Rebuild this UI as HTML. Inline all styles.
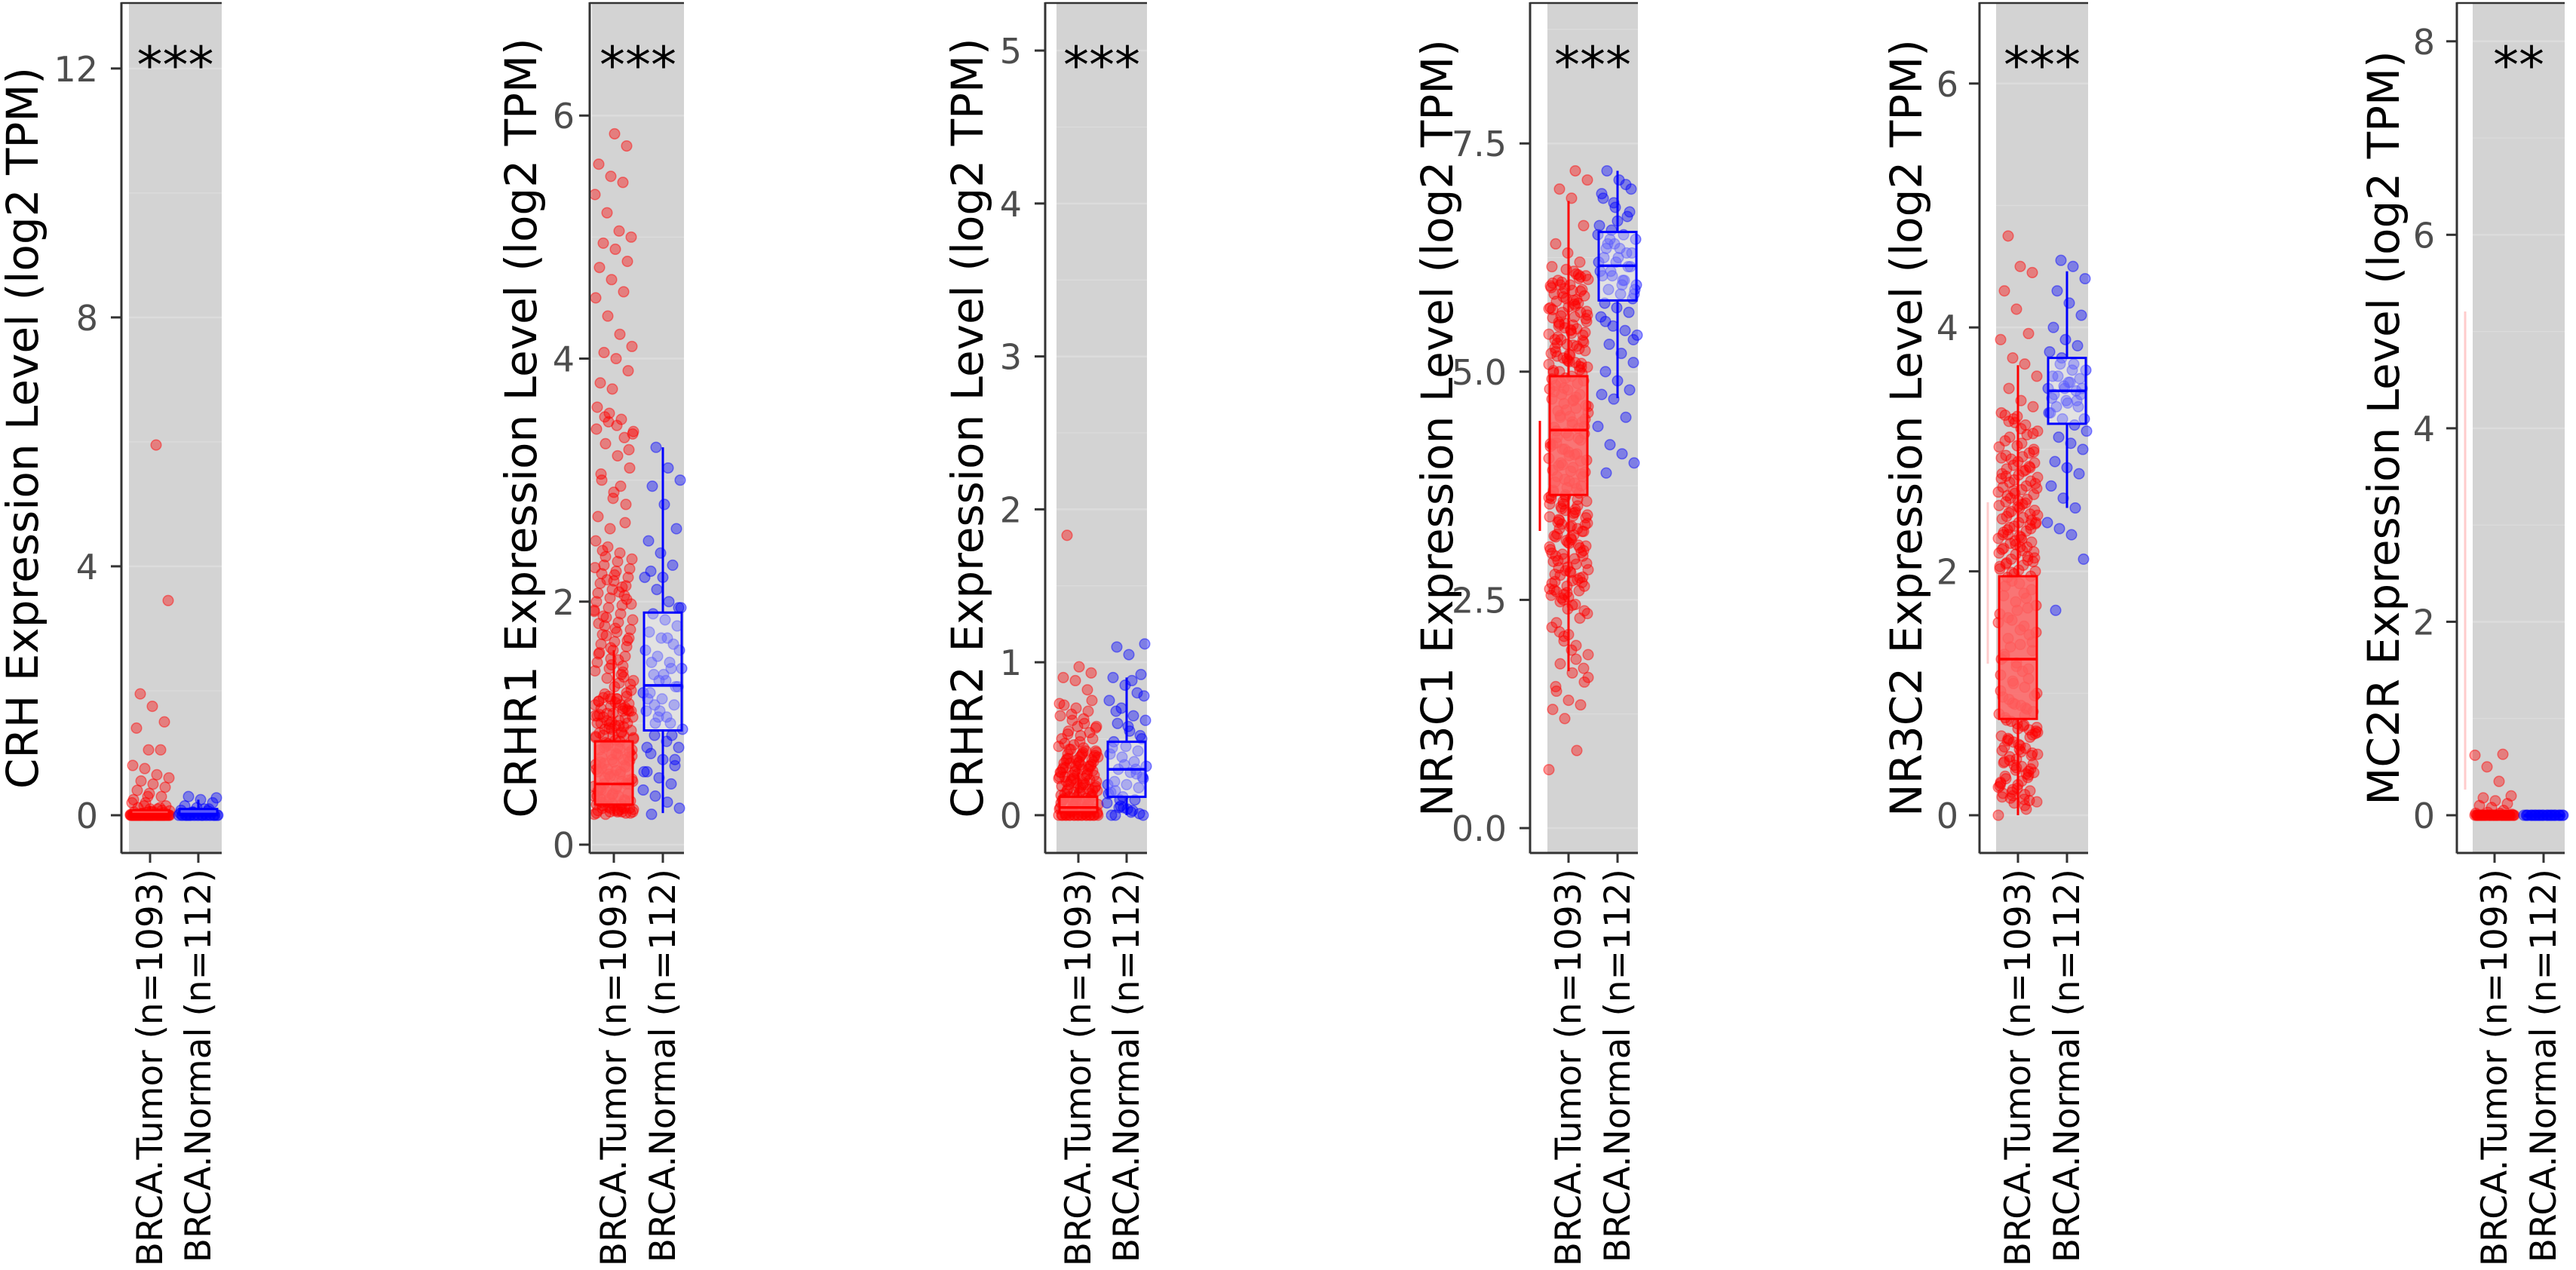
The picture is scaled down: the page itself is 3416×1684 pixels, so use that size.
<!DOCTYPE html>
<html><head><meta charset="utf-8"><style>
html,body{margin:0;padding:0;background:#fff;}
svg{display:block;font-family:"DejaVu Sans","Liberation Sans",sans-serif;}
</style></head><body>
<svg id="chart" width="3416" height="1684" viewBox="0 0 3416 1684" xmlns="http://www.w3.org/2000/svg"></svg>
<script>
// ---------- data ----------
const genes = ["CRH","CRHR1","CRHR2","NR3C1","NR3C2","MC2R"];
const sigLabels = ["***","***","***","***","***","**"];
const groupLabels = ["BRCA.Tumor (n=1093)","BRCA.Normal (n=112)"];
const tickValues = [[0,4,8,12],[0,2,4,6],[0,1,2,3,4,5],[0,2.5,5,7.5],[0,2,4,6],[0,2,4,6,8]];
const tickLabels = [["0","4","8","12"],["0","2","4","6"],["0","1","2","3","4","5"],["0.0","2.5","5.0","7.5"],["0","2","4","6"],["0","2","4","6","8"]];
const yDomains = [[-0.594,13.04],[-0.062,6.92],[-0.242,5.306],[-0.264,9.03],[-0.303,6.654],[-0.382,8.388]];
// box stats: [lowWhisker, q1, median, q3, highWhisker]
const tumorBoxes = [[0,0,0.02,0.08,0.15],[0.25,0.33,0.5,0.85,1.6],[0,0.02,0.05,0.12,0.28],[1.72,3.65,4.36,4.95,6.87],[0,0.79,1.28,1.96,3.69],[0,0,0,0.02,0.05]];
const normalBoxes = [[0,0,0.02,0.1,0.25],[0.26,0.94,1.31,1.91,3.27],[0,0.12,0.3,0.48,0.9],[4.71,5.78,6.16,6.53,7.2],[2.52,3.21,3.48,3.75,4.46],[0,0,0,0,0]];

const crhTumor = [0,0,0,0,0,0,0,0,0,0,0,0,0,0,0,0,0,0,0,0,0,0,0,0,0,0,0,0,0,0,0,0,0,0,0,0,0,0,0,0,0,0,0,0,0,0,0,0,0,0,0.01,0.02,0.03,0.01,0.02,0.04,0.05,0.08,0.1,0.12,0.15,0.05,0.03,0.07,0.1,0.2,0.25,0.3,0.35,0.4,0.45,0.5,0.55,0.6,0.65,0.75,0.8,1.05,1.05,1.4,1.5,1.75,1.95,3.45,5.95,0.15,0.2,0.12,0.3,0.02,0.04,0.06];
const crhNormal = [0,0,0,0,0,0,0,0,0,0,0,0,0,0,0,0,0,0,0,0,0,0,0,0,0,0.02,0.05,0.08,0.1,0.12,0.15,0.2,0.25,0.3,0.28,0.1,0.05,0.03,0.07];
const crhr1Tumor = [0.25,0.27,0.3,0.28,0.26,0.32,0.35,0.3,0.27,0.25,0.29,0.33,0.38,0.4,0.36,0.42,0.45,0.5,0.48,0.55,0.52,0.6,0.58,0.62,0.65,0.7,0.68,0.72,0.75,0.8,0.78,0.85,0.82,0.88,0.9,0.95,0.92,1.0,0.98,1.05,1.1,1.02,1.08,1.15,1.12,1.2,1.18,1.25,1.3,0.3,0.26,0.28,0.35,0.4,0.31,0.27,0.44,0.5,0.57,0.63,0.69,0.74,0.81,0.87,0.93,0.99,1.06,1.13,0.9,1.0,1.1,1.2,0.95,1.05,1.15,1.22,
0.26,0.3,0.34,0.38,0.42,0.46,0.5,0.54,0.58,0.62,0.66,0.7,0.74,0.78,0.82,0.86,0.9,0.94,0.98,1.02,1.06,1.1,1.14,1.18,1.22,
0.28,0.32,0.36,0.4,0.44,0.48,0.52,0.56,0.6,0.64,0.68,0.72,0.76,0.8,0.84,0.88,0.92,0.96,1.0,1.04,1.08,1.12,1.16,1.2,1.24,
0.27,0.29,0.31,0.33,0.37,0.41,0.47,0.53,0.61,0.67,0.73,0.79,0.83,0.89,0.97,1.01,1.07,1.11,1.17,1.21,
1.27,1.33,1.37,1.43,1.47,1.53,1.57,1.63,1.67,1.73,1.77,1.83,1.87,1.93,1.97,2.03,2.07,2.13,2.17,2.23,2.27,2.33,2.37,
1.35,1.4,1.45,1.5,1.55,1.6,1.65,1.7,1.75,1.8,1.85,1.9,1.95,2.0,2.05,2.1,2.15,2.2,2.25,2.3,2.35,2.4,2.45,2.5,1.38,1.48,1.58,1.68,1.78,1.88,1.98,2.08,2.18,2.28,1.42,1.62,1.82,2.02,2.22,2.42,1.32,1.52,1.72,1.92,2.12,2.6,2.7,2.8,2.9,3.0,3.1,3.2,3.3,3.4,3.5,3.55,3.6,2.65,2.85,3.05,3.25,3.45,3.52,3.38,2.95,3.48,3.42,3.35,3.75,3.8,3.9,4.0,4.05,4.1,4.2,4.35,4.5,4.55,4.65,4.75,4.8,4.9,4.95,5.0,5.05,5.2,5.35,5.45,5.5,5.6,5.75,5.85];
const crhr1Normal = [0.25,0.3,0.35,0.4,0.45,0.5,0.55,0.6,0.65,0.7,0.75,0.8,0.85,0.9,0.95,1.0,1.05,1.1,1.15,1.2,1.25,1.3,1.35,1.4,1.45,1.5,1.55,1.6,1.65,1.7,1.75,1.8,1.85,1.9,1.95,2.0,2.1,2.2,2.3,2.4,2.5,2.6,2.8,2.95,3.0,3.1,3.27,0.6,0.9,1.1,1.2,1.3,1.4,1.5,1.6,1.7,1.0,1.25,1.45,1.35,0.8,0.7,2.2,2.25,1.95,1.05,1.15];
const crhr2Tumor = [0,0,0,0,0,0,0,0,0,0,0,0,0,0,0,0,0,0,0,0,0.02,0.04,0.06,0.08,0.1,0.12,0.14,0.16,0.18,0.2,0.22,0.24,0.26,0.28,0.3,0.32,0.34,0.36,0.38,0.4,0.42,0.44,0.02,0.04,0.06,0.08,0.1,0.12,0.14,0.16,0.18,0.2,0.22,0.24,0.26,0.28,0.3,0.32,0.34,0.36,0.38,0.4,0.03,0.07,0.11,0.15,0.19,0.23,0.27,0.31,0.35,0.39,0.43,0.01,0.05,0.09,0.13,0.17,0.21,0.25,0.29,0.33,0.37,0.41,
0.01,0.03,0.05,0.07,0.09,0.11,0.13,0.15,0.17,0.19,0.21,0.23,0.25,0.27,0.29,0.31,0.33,0.35,0.37,0.39,0.41,0.43,0.45,
0.02,0.06,0.1,0.14,0.18,0.22,0.26,0.3,0.34,0.38,0.42,0.46,0.5,0.54,0.58,0.01,0.04,0.08,0.12,0.16,0.2,0.24,0.28,0.32,0.36,
0.47,0.5,0.52,0.55,0.58,0.6,0.62,0.65,0.68,0.7,0.72,0.75,0.48,0.53,0.57,0.63,0.66,0.73,0.82,0.88,0.9,0.93,0.97,1.83];
const crhr2Normal = [0,0,0.02,0.05,0.08,0.1,0.12,0.15,0.18,0.2,0.22,0.25,0.28,0.3,0.32,0.35,0.38,0.4,0.42,0.45,0.48,0.5,0.55,0.6,0.62,0.65,0.7,0.75,0.8,0.85,0.9,0.92,1.05,1.1,1.12,0.03,0.06,0.14,0.27,0.33,0.44,0.52,0.58,0.68,0.78,0.88,0.1,0.2,0.3,0.05,0.0,0.01,0.04,0.16,0.24];
const nr3c1Tumor = [0.64,0.85,1.2,1.3,1.35,1.4,1.5,1.6,1.7,1.8,1.9,2.0,2.1,2.2,2.3,2.4,1.55,1.75,1.95,2.15,2.35,2.45,2.5,2.55,2.6,2.65,2.7,2.75,2.8,2.85,2.9,2.95,3.0,3.05,3.1,3.15,3.2,3.25,3.3,3.35,3.4,3.45,3.5,3.55,3.6,3.65,3.7,3.75,3.8,3.85,3.9,3.95,4.0,4.05,4.1,4.15,4.2,4.25,4.3,4.35,4.4,4.45,4.5,4.55,4.6,4.65,4.7,4.75,4.8,4.85,4.9,4.95,5.0,5.05,5.1,5.15,5.2,5.25,5.3,5.35,5.4,5.45,5.5,5.55,5.6,5.65,5.7,5.75,5.8,5.85,5.9,5.95,6.0,6.05,6.1,2.52,2.62,2.72,2.82,2.92,3.02,3.12,3.22,3.32,3.42,3.52,3.62,3.72,3.82,3.92,4.02,4.12,4.22,4.32,4.42,4.52,4.62,4.72,4.82,4.92,5.02,5.12,5.22,5.32,5.42,5.52,5.62,5.72,5.82,5.92,6.02,2.58,2.78,2.98,3.18,3.38,3.58,3.78,3.98,4.18,4.38,4.58,4.78,4.98,5.18,5.38,5.58,5.78,5.98,3.08,3.28,3.48,3.68,3.88,4.08,4.28,4.48,4.68,4.88,5.08,5.28,5.48,5.68,5.88,
2.53,2.59,2.65,2.71,2.77,2.83,2.89,2.95,3.01,3.07,3.13,3.19,3.25,3.31,3.37,3.43,3.49,3.55,3.61,3.67,3.73,3.79,3.85,3.91,3.97,4.03,4.09,4.15,4.21,4.27,4.33,4.39,4.45,4.51,4.57,4.63,4.69,4.75,4.81,4.87,4.93,4.99,5.05,5.11,5.17,5.23,5.29,5.35,5.41,5.47,5.53,5.59,5.65,5.71,5.77,5.83,5.89,5.95,6.01,6.07,
2.56,2.68,2.74,2.86,2.98,3.04,3.16,3.28,3.34,3.46,3.58,3.64,5.06,5.14,5.26,5.34,5.46,5.54,5.66,5.74,5.86,5.94,6.06,6.12,
2.61,2.69,2.81,2.93,3.09,3.21,3.33,3.41,3.53,3.63,5.01,5.09,5.19,5.31,5.43,5.51,5.61,5.69,5.79,5.91,5.97,6.04,
2.12,2.25,2.38,2.44,2.48,1.65,1.85,2.05,
6.15,6.2,6.3,6.4,6.6,6.9,7.0,7.1,7.2];
const nr3c1Normal = [3.89,4.0,4.1,4.2,4.4,4.5,4.7,4.75,4.8,4.9,5.0,5.1,5.2,5.3,5.4,5.45,5.5,5.6,5.65,5.7,5.75,5.8,5.85,5.9,5.95,6.0,6.05,6.1,6.15,6.2,6.25,6.3,6.35,6.4,6.45,6.5,6.55,6.6,6.7,6.8,6.9,7.0,7.1,7.2,5.9,6.0,6.1,6.2,6.3,6.4,6.05,6.15,6.25,6.35,5.85,5.95,6.45,6.5,7.05,6.85,6.95,6.75,6.65,5.55,5.35];
const nr3c2Tumor = [0.0,0.05,0.1,0.15,0.2,0.25,0.3,0.35,0.4,0.45,0.5,0.55,0.6,0.65,0.7,0.75,0.8,0.85,0.9,0.95,1.0,1.05,1.1,1.15,1.2,1.25,1.3,1.35,1.4,1.45,1.5,1.55,1.6,1.65,1.7,1.75,1.8,1.85,1.9,1.95,2.0,2.05,2.1,2.15,2.2,2.25,2.3,2.35,2.4,2.45,2.5,2.55,2.6,2.65,2.7,2.75,2.8,2.85,2.9,2.95,3.0,3.05,3.1,3.15,3.2,3.25,3.3,0.12,0.22,0.32,0.42,0.52,0.62,0.72,0.82,0.92,1.02,1.12,1.22,1.32,1.42,1.52,1.62,1.72,1.82,1.92,2.02,2.12,2.22,2.32,2.42,2.52,2.62,2.72,2.82,2.92,3.02,3.12,3.22,0.18,0.38,0.58,0.78,0.98,1.18,1.38,1.58,1.78,1.98,2.18,2.38,2.58,2.78,2.98,0.28,0.48,0.68,0.88,1.08,1.28,1.48,1.68,1.88,2.08,2.28,2.48,2.68,0.08,0.16,0.26,0.36,0.46,0.56,0.66,2.2,2.3,2.4,
0.13,0.19,0.24,0.31,0.37,0.43,0.49,0.54,0.61,0.67,0.73,0.77,0.83,0.87,0.91,0.97,1.96,2.01,2.07,2.11,2.17,2.23,2.27,2.33,2.37,2.43,2.47,2.53,2.57,2.63,2.67,2.73,2.77,2.83,2.87,2.93,2.97,3.03,3.07,3.13,3.17,3.23,
0.11,0.17,0.21,0.27,0.33,0.39,0.44,0.51,0.57,0.63,0.69,0.74,1.99,2.04,2.09,2.14,2.19,2.24,2.29,2.34,2.39,2.44,2.49,2.54,2.59,2.64,2.69,2.74,2.79,2.84,2.89,2.94,
0.14,0.23,0.34,0.41,0.53,0.64,0.71,2.06,2.16,2.26,2.36,2.46,2.56,2.66,2.76,2.86,3.27,3.28,
3.35,3.4,3.5,3.6,3.7,3.75,3.9,3.95,4.15,4.3,4.45,4.5,4.75];
const nr3c2Normal = [1.68,2.1,2.3,2.35,2.4,2.52,2.6,2.7,2.8,2.85,2.9,3.0,3.05,3.1,3.15,3.2,3.25,3.3,3.35,3.4,3.45,3.5,3.55,3.6,3.65,3.7,3.75,3.8,3.85,3.9,4.0,4.1,4.2,4.3,4.4,4.5,4.55,3.3,3.4,3.5,3.6,3.45,3.55,3.35,3.25,3.65,3.7,3.5,3.48,3.52,3.42,3.58,3.38];
const mc2rTumor = [0,0,0,0,0,0,0,0,0,0,0,0,0,0,0,0,0,0,0,0,0,0,0,0,0,0,0,0,0,0,0,0,0,0,0,0,0,0,0,0,0.01,0.02,0.03,0.02,0.05,0.08,0.1,0.12,0.15,0.18,0.2,0.35,0.5,0.62,0.63];
const mc2rNormal = [0,0,0,0,0,0,0,0,0,0,0,0,0,0,0,0,0,0,0,0,0,0,0,0,0,0,0,0,0,0];

const tumorSeries = [crhTumor,crhr1Tumor,crhr2Tumor,nr3c1Tumor,nr3c2Tumor,mc2rTumor];
const normalSeries = [crhNormal,crhr1Normal,crhr2Normal,nr3c1Normal,nr3c2Normal,mc2rNormal];

// ---------- layout ----------
const layout = [
 {axis:161,g0:171,g1:294,xt:199,xn:263,lab:130,title:29},
 {axis:782,g0:785,g1:907,xt:814,xn:879,lab:762,title:690},
 {axis:1386,g0:1401,g1:1521,xt:1430,xn:1494,lab:1355,title:1282},
 {axis:2029,g0:2052,g1:2172,xt:2080,xn:2145,lab:1998,title:1905},
 {axis:2625,g0:2647,g1:2769,xt:2676,xn:2741,lab:2597,title:2527},
 {axis:3258,g0:3279,g1:3401,xt:3308,xn:3373,lab:3229,title:3160}
];
const TOP=5, BOT=1130;
const NS="http://www.w3.org/2000/svg";
const svg=document.getElementById('chart');
function mk(tag,attrs,parent){const e=document.createElementNS(NS,tag);for(const k in attrs)e.setAttribute(k,attrs[k]);(parent||svg).appendChild(e);return e;}

genes.forEach((gene,p)=>{
  const L=layout[p], d=yDomains[p];
  const y=v=>BOT-(v-d[0])/(d[1]-d[0])*(BOT-TOP);
  const g=mk('g',{});
  
  
  const bg=mk('rect',{x:L.g0,y:TOP,width:L.g1-L.g0,height:BOT-TOP,fill:'#d3d3d3'},g);
  
  
  const tv=tickValues[p];
  const step=tv[1]-tv[0];
  for(let v=tv[0]-step/2; v<=d[1]; v+=step/2){
    if(v<d[0])continue;
    const isMajor=Math.abs((v-tv[0])/step-Math.round((v-tv[0])/step))<1e-6;
    const gl=mk('line',{x1:L.g0,x2:L.g1,y1:y(v),y2:y(v),stroke:'#dcdcdc','stroke-width':isMajor?2.5:1.2},g);
    
    
  }
  const groups=[[tumorSeries[p],L.xt,'#ff0000'],[normalSeries[p],L.xn,'#0000ff']];
  groups.forEach(([vals,cx,col],gi)=>{
    vals.forEach((v,i)=>{
      const off=((i*37+gi*11)%53)-26;
      const c=mk('circle',{cx:cx+off,cy:y(v),r:6.8,fill:col,'fill-opacity':0.4,stroke:col,'stroke-opacity':0.45,'stroke-width':1.5},g);
      
      
    });
  });
  const boxes=[[tumorBoxes[p],L.xt,'#ff0000','rgba(255,100,100,0.85)'],[normalBoxes[p],L.xn,'#0000ff','rgba(255,255,255,0.35)']];
  boxes.forEach(([b,cx,col,fill],gi)=>{
    const w1=mk('line',{x1:cx,x2:cx,y1:y(b[0]),y2:y(b[1]),stroke:col,'stroke-width':3},g);
    
    
    const w2=mk('line',{x1:cx,x2:cx,y1:y(b[3]),y2:y(b[4]),stroke:col,'stroke-width':3},g);
    
    
    const r=mk('rect',{x:cx-25,y:y(b[3]),width:50,height:Math.max(1,y(b[1])-y(b[3])),fill:fill,stroke:col,'stroke-width':3},g);
    
    
    const m=mk('line',{x1:cx-25,x2:cx+25,y1:y(b[2]),y2:y(b[2]),stroke:col,'stroke-width':3.5},g);
    
    
  });
  const ax=mk('line',{x1:L.axis,x2:L.axis,y1:TOP-2,y2:BOT+1.5,stroke:'#333','stroke-width':3},g);
  
  
  const tl=mk('line',{x1:L.axis,x2:L.g1,y1:TOP-1,y2:TOP-1,stroke:'#333','stroke-width':2.5},g);
  
  
  const bl=mk('line',{x1:L.axis,x2:L.g1,y1:BOT+1,y2:BOT+1,stroke:'#333','stroke-width':3},g);
  
  
  tv.forEach((v,i)=>{
    const t=mk('line',{x1:L.axis-14,x2:L.axis,y1:y(v),y2:y(v),stroke:'#333','stroke-width':3},g);
    
    
    const tx=mk('text',{x:L.lab,y:y(v)+17,'text-anchor':'end','font-size':46,fill:'#4d4d4d'},g);
    tx.textContent=tickLabels[p][i];
    
    
  });
  [L.xt,L.xn].forEach((cx,i)=>{
    const t=mk('line',{x1:cx,x2:cx,y1:BOT,y2:BOT+14,stroke:'#333','stroke-width':3},g);
    
    
    const tx=mk('text',{x:0,y:0,'text-anchor':'end','font-size':47,fill:'#000',transform:`translate(${cx+16},${BOT+22}) rotate(-90)`},g);
    tx.textContent=groupLabels[i];
    
    
  });
  const yt=mk('text',{x:0,y:0,'text-anchor':'middle','font-size':58,fill:'#000',transform:`translate(${L.title+21},${(TOP+BOT)/2}) rotate(-90)`},g);
  yt.textContent=gene+' Expression Level (log2 TPM)';
  
  
  const s=mk('text',{x:(L.g0+L.g1)/2,y:110,'text-anchor':'middle','font-size':68,fill:'#000'},g);
  s.textContent=sigLabels[p];
  
  
});
[[2042,558,704,'#ff0000',1],[2636,666,880,'#ff9999',0.5],[3269,413,1047,'#ff9999',0.5]].forEach(a=>{
  const l=mk('line',{x1:a[0],x2:a[0],y1:a[1],y2:a[2],stroke:a[3],'stroke-width':3,'stroke-opacity':a[4]});
  
  
});
</script>
</body></html>
